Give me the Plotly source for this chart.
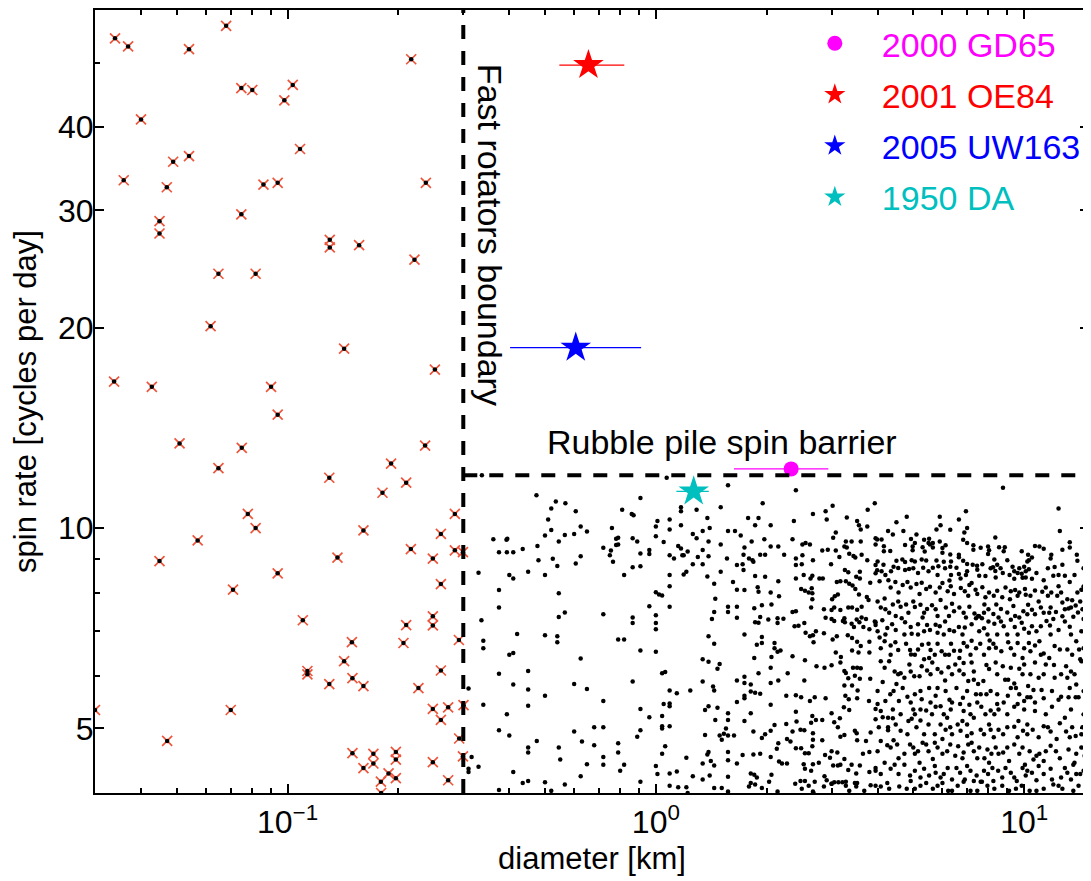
import math

import plotly.graph_objects as go

# fast rotators (diameter km, spin cycles/day), left of the 0.3 km boundary
fast_pts = [
    (0.0340, 54.4), (0.0369, 52.9), (0.0540, 52.4), (0.0681, 56.8), (0.2166, 50.6),
    (0.0749, 45.8), (0.0802, 45.5), (0.1033, 46.3), (0.0980, 43.9), (0.0400, 41.1),
    (0.0540, 36.2), (0.0489, 35.5), (0.1081, 37.1), (0.0359, 33.3), (0.0470, 32.5),
    (0.0860, 32.8), (0.0940, 33.0), (0.2374, 33.0), (0.0449, 28.9), (0.0449, 27.7),
    (0.0749, 29.6), (0.1302, 27.1), (0.1302, 26.4), (0.1564, 26.6), (0.2211, 25.3),
    (0.0649, 24.1), (0.0819, 24.1), (0.0618, 20.1), (0.1424, 18.6), (0.0338, 16.6),
    (0.0428, 16.3), (0.0902, 16.3), (0.2512, 17.3), (0.0940, 14.8), (0.0509, 13.4),
    (0.0751, 13.2), (0.2363, 13.3), (0.0649, 12.3), (0.1910, 12.5), (0.1298, 11.9),
    (0.2099, 11.7), (0.1810, 11.3), (0.2846, 10.5), (0.0780, 10.5), (0.0819, 10.0),
    (0.1607, 9.92), (0.2608, 9.80), (0.0570, 9.58), (0.2162, 9.30), (0.2846, 9.26),
    (0.2993, 9.20), (0.0449, 8.92), (0.1366, 9.03), (0.2480, 9.00), (0.0940, 8.55),
    (0.2608, 8.24), (0.0711, 8.08), (0.1100, 7.27), (0.2480, 7.37), (0.2480, 7.14),
    (0.2099, 7.15), (0.1495, 6.74), (0.2064, 6.72), (0.2919, 6.79), (0.1424, 6.31),
    (0.1132, 6.10), (0.1132, 6.03), (0.2608, 6.11), (0.1298, 5.83), (0.1500, 5.95),
    (0.1607, 5.79), (0.2266, 5.75), (0.0300, 5.33), (0.0701, 5.33), (0.2480, 5.35),
    (0.2729, 5.38), (0.3004, 5.42), (0.2608, 5.15), (0.0471, 4.79), (0.2924, 4.83),
    (0.1500, 4.59), (0.1710, 4.58), (0.1968, 4.61), (0.1968, 4.49), (0.1607, 4.36),
    (0.1710, 4.43), (0.2480, 4.45), (0.2993, 4.54), (0.1792, 4.16), (0.1880, 4.28),
    (0.1968, 4.21), (0.2729, 4.18), (0.1795, 4.00),
]

# slower rotators, 0.3 - 1 km
cloud_small = [
    (0.337, 12.0), (0.474, 11.2), (0.908, 11.1), (0.535, 10.96), (0.568, 10.9), (0.52, 10.7),
    (0.606, 10.6), (0.81, 10.65), (0.86, 10.5), (0.87, 10.45), (0.51, 10.3), (1.01, 10.25),
    (1.0, 10.05), (0.625, 10.05), (0.76, 10.0), (0.52, 9.93), (0.65, 9.88), (0.6, 9.8),
    (0.566, 9.76), (0.50, 9.75), (1.0, 9.72), (0.362, 9.62), (0.393, 9.6), (0.395, 9.64),
    (0.545, 9.55), (0.78, 9.64), (0.79, 9.67), (0.865, 9.65), (0.89, 9.55), (1.05, 9.53),
    (0.78, 9.43), (0.79, 9.45), (0.477, 9.4), (0.72, 9.34), (0.435, 9.3), (0.375, 9.2),
    (0.394, 9.2), (0.41, 9.2), (0.755, 9.25), (0.96, 9.27), (0.96, 9.14), (0.908, 9.16),
    (0.75, 9.1), (0.625, 9.07), (0.525, 8.99), (0.48, 8.95), (0.765, 8.9), (0.54, 8.77),
    (0.606, 8.85), (0.865, 8.73), (0.908, 8.76), (0.33, 8.57), (0.40, 8.5), (0.41, 8.4),
    (0.45, 8.6), (0.50, 8.5), (0.82, 8.5), (0.375, 8.07), (0.545, 7.98), (1.0, 8.01),
    (1.02, 7.95), (1.04, 7.92), (0.375, 7.6), (0.96, 7.63), (0.72, 7.42), (0.545, 7.35),
    (0.566, 7.47), (0.336, 7.27), (0.865, 7.34), (0.865, 7.2), (1.0, 7.4), (1.0, 7.2),
    (1.0, 7.05), (0.42, 6.93), (0.50, 6.9), (0.54, 6.88), (0.54, 6.74), (0.34, 6.77),
    (0.34, 6.6), (0.79, 6.8), (0.82, 6.8), (0.908, 6.55), (1.0, 6.52), (0.40, 6.45),
    (0.41, 6.49), (0.625, 6.37), (0.375, 6.04), (0.45, 6.1), (1.04, 6.05), (0.41, 5.82),
    (0.45, 5.72), (0.60, 5.83), (0.65, 5.73), (0.865, 5.88), (0.31, 5.74), (0.50, 5.6),
    (0.34, 5.43), (0.45, 5.41), (0.72, 5.5), (0.908, 5.35), (0.96, 5.2), (1.05, 5.44),
    (0.394, 5.25), (1.04, 5.22), (0.375, 4.97), (0.40, 4.88), (0.60, 4.95), (0.68, 5.02),
    (0.72, 5.02), (0.908, 4.97), (0.89, 4.86), (1.04, 5.04), (1.04, 5.0), (0.475, 4.79),
    (0.63, 4.78), (0.68, 4.72), (0.79, 4.75), (0.45, 4.68), (0.45, 4.6), (0.545, 4.68),
    (0.79, 4.6), (1.04, 4.58), (0.316, 4.53), (0.55, 4.49), (0.72, 4.53), (0.72, 4.41),
    (0.31, 4.35), (0.31, 4.3), (0.33, 4.38), (0.41, 4.3), (0.65, 4.42), (0.82, 4.41),
    (0.80, 4.32), (1.0, 4.39), (1.01, 4.27), (0.625, 4.24), (0.435, 4.14), (0.45, 4.17),
    (0.50, 4.15), (0.566, 4.12), (0.908, 4.16), (0.375, 4.04), (0.52, 4.03),
]

# 1 - 4 km
cloud_mid = [
    (1.07, 11.9), (1.57, 11.6), (2.40, 11.4), (1.95, 10.9), (3.93, 10.9), (1.17, 10.75),
    (1.17, 10.6), (1.50, 10.75), (1.29, 10.65), (3.02, 10.8), (2.67, 10.5), (2.89, 10.6),
    (2.91, 10.3), (3.76, 10.65), (1.09, 10.3), (1.38, 10.35), (1.78, 10.35), (1.90, 10.35),
    (2.37, 10.25), (3.30, 10.37), (3.52, 10.25), (3.56, 10.1), (1.09, 9.95), (1.17, 10.1),
    (1.34, 9.9), (1.40, 10.0), (1.57, 9.9), (1.64, 9.9), (1.70, 9.75), (1.86, 10.1),
    (2.05, 10.1), (3.08, 9.85), (3.60, 9.95), (3.75, 10.05), (1.26, 9.8), (1.29, 9.65),
    (1.39, 9.55), (1.50, 9.45), (1.74, 9.35), (1.82, 9.55), (1.97, 9.62), (2.35, 9.62),
    (2.50, 9.45), (2.55, 9.5), (2.62, 9.45), (3.03, 9.67), (3.28, 9.55), (3.40, 9.55),
    (3.60, 9.55), (3.95, 9.65), (1.15, 9.4), (1.17, 9.32), (1.22, 9.22), (1.34, 9.27),
    (1.09, 9.1), (1.12, 9.0), (1.18, 9.1), (1.19, 9.1), (1.30, 9.05), (1.39, 9.07),
    (1.56, 9.0), (1.73, 9.12), (1.79, 9.0), (1.83, 8.95), (1.84, 8.9), (1.92, 9.12),
    (1.98, 9.12), (2.15, 9.38), (2.05, 9.38), (2.23, 9.12), (2.40, 9.0), (2.50, 9.1),
    (2.67, 8.95), (2.83, 9.25), (2.93, 9.28), (3.08, 9.25), (3.15, 9.05), (3.25, 9.38),
    (3.30, 9.35), (3.35, 9.15), (3.44, 9.08), (3.48, 9.03), (3.62, 9.12), (3.75, 8.95),
    (3.95, 9.45), (3.95, 8.8), (1.26, 8.82), (1.34, 8.82), (1.09, 8.5), (1.21, 8.6),
    (1.19, 8.52), (1.38, 8.46), (1.50, 8.6), (1.66, 8.8), (1.72, 8.82), (1.73, 8.65),
    (1.86, 8.47), (1.98, 8.45), (2.15, 8.32), (2.40, 8.8), (2.49, 8.82), (2.52, 8.5),
    (2.40, 8.4), (2.63, 8.4), (2.66, 8.48), (2.78, 8.4), (2.84, 8.4), (2.99, 8.82),
    (3.26, 8.65), (3.33, 8.58), (3.28, 8.32), (3.17, 8.32), (3.10, 8.3), (3.58, 8.6),
    (3.50, 8.45), (3.58, 8.4), (3.82, 8.28), (3.95, 8.55), (1.09, 8.18), (1.44, 8.25),
    (1.62, 8.3), (1.66, 8.08), (1.74, 8.07), (1.89, 8.15), (1.90, 8.02), (2.05, 8.0),
    (2.16, 7.9), (2.48, 8.1), (2.54, 8.05), (2.60, 8.0), (2.66, 7.98), (2.65, 8.12),
    (3.01, 7.82), (3.06, 7.9), (3.12, 7.95), (3.35, 8.25), (3.42, 8.2), (3.48, 8.1),
    (3.56, 7.95), (3.74, 7.88), (1.45, 7.83), (1.09, 7.62), (1.57, 7.62), (1.57, 7.48),
    (1.66, 7.62), (1.85, 7.58), (1.94, 7.66), (2.06, 7.68), (2.64, 7.6), (2.66, 7.82),
    (2.86, 7.55), (3.00, 7.53), (3.05, 7.6), (3.17, 7.53), (3.33, 7.6), (3.41, 7.6),
    (3.52, 7.54), (3.62, 7.62), (3.78, 7.8), (1.42, 7.3), (1.44, 7.48), (1.66, 7.33),
    (1.86, 7.22), (1.90, 7.21), (1.92, 7.35), (2.02, 7.29), (2.14, 7.32), (2.14, 7.2),
    (2.22, 7.31), (2.35, 7.48), (2.40, 7.5), (2.38, 7.12), (2.44, 7.13), (2.53, 7.2),
    (2.89, 7.33), (3.00, 7.3), (3.05, 7.25), (3.25, 7.32), (3.22, 7.25), (3.26, 7.22),
    (3.40, 7.18), (3.45, 7.1), (3.51, 7.29), (3.57, 7.22), (3.62, 7.34), (3.72, 7.3),
    (3.66, 7.1), (3.80, 7.05), (3.93, 7.24), (3.95, 7.15), (1.39, 6.88), (1.44, 6.7),
    (1.74, 6.92), (1.94, 6.86), (1.88, 6.68), (1.94, 6.72), (1.85, 6.38), (2.10, 6.72),
    (2.10, 6.6), (2.14, 6.52), (2.18, 6.55), (2.06, 6.4), (2.35, 6.42), (2.55, 6.96),
    (2.62, 6.88), (2.67, 6.9), (2.68, 6.74), (2.72, 7.0), (2.86, 6.95), (3.02, 6.8),
    (3.10, 6.88), (3.08, 6.5), (3.18, 6.4), (3.17, 6.28), (3.32, 6.9), (3.41, 6.84),
    (3.52, 6.75), (3.41, 6.55), (3.60, 6.65), (3.80, 6.75), (3.55, 6.5), (3.80, 6.5),
    (2.54, 6.33), (2.73, 6.2), (3.00, 6.22), (2.05, 6.17), (1.90, 6.05), (2.87, 6.17),
    (3.25, 6.1), (3.28, 6.06), (3.43, 6.17), (3.52, 6.17), (3.60, 6.16), (3.33, 5.95),
    (3.47, 6.0), (3.58, 5.94), (3.82, 5.94), (1.47, 6.15), (1.49, 6.25), (1.34, 6.35),
    (1.39, 6.3), (1.06, 6.08), (1.09, 5.7), (1.14, 5.65), (1.24, 5.7), (1.34, 5.88),
    (1.43, 5.78), (1.44, 5.7), (1.66, 5.9), (1.74, 5.98), (1.74, 5.85), (1.81, 5.82),
    (1.66, 5.48), (1.74, 5.6), (1.74, 5.55), (1.81, 5.68), (1.86, 5.66), (1.92, 5.64),
    (2.05, 5.85), (2.15, 5.9), (2.05, 5.43), (2.28, 6.05), (2.26, 5.6), (2.40, 5.61),
    (2.48, 5.57), (2.53, 5.9), (2.62, 5.5), (2.70, 5.57), (2.89, 5.55), (3.00, 5.27),
    (3.25, 5.8), (3.41, 5.8), (3.27, 5.6), (3.34, 5.53), (3.24, 5.38), (3.35, 5.33),
    (3.53, 5.7), (3.52, 5.55), (3.79, 5.5), (3.95, 5.35), (1.09, 5.45), (1.09, 5.4),
    (1.39, 5.4), (1.36, 5.33), (1.47, 5.37), (1.57, 5.27), (1.57, 5.15), (1.55, 5.0),
    (1.45, 5.15), (1.74, 5.13), (1.81, 5.27), (1.09, 5.04), (1.36, 4.89), (1.49, 4.88),
    (1.53, 4.91), (1.57, 4.88), (1.63, 4.88), (1.51, 4.81), (1.84, 4.95), (2.05, 4.96),
    (1.94, 4.84), (1.98, 4.9), (2.10, 5.06), (2.26, 5.08), (2.35, 4.95), (2.40, 5.3),
    (2.41, 5.12), (2.47, 4.98), (2.53, 4.97), (2.64, 5.1), (2.72, 5.15), (2.66, 5.22),
    (2.83, 5.15), (3.05, 5.11), (3.12, 5.02), (3.16, 5.18), (3.17, 4.86), (3.25, 4.89),
    (3.47, 4.96), (3.51, 4.92), (3.52, 4.8), (3.72, 4.79), (3.83, 4.93), (1.06, 4.70),
    (1.38, 4.57), (1.39, 4.61), (1.34, 4.43), (1.41, 4.47), (1.44, 4.40), (1.57, 4.61),
    (1.57, 4.48), (1.66, 4.43), (1.72, 4.56), (1.84, 4.57), (1.92, 4.58), (2.05, 4.53),
    (2.15, 4.75), (2.13, 4.66), (2.16, 4.46), (2.20, 4.43), (2.27, 4.43), (2.27, 4.82),
    (2.32, 4.78), (2.40, 4.67), (2.48, 4.67), (2.54, 4.59), (2.60, 4.59), (2.67, 4.92),
    (2.67, 4.81), (2.66, 4.70), (2.83, 4.80), (2.88, 4.56), (2.97, 4.52), (2.52, 4.42),
    (2.54, 4.35), (2.67, 4.42), (2.64, 4.32), (2.77, 4.44), (3.00, 4.62), (3.11, 4.60),
    (3.03, 4.40), (3.12, 4.40), (3.17, 4.41), (3.25, 4.50), (3.33, 4.33), (3.50, 4.28),
    (3.40, 4.41), (3.65, 4.58), (3.80, 4.61), (3.58, 4.40), (3.80, 4.30), (3.95, 4.32),
    (1.09, 4.28), (1.14, 4.31), (1.26, 4.24), (1.21, 4.52), (1.34, 4.19), (1.40, 4.25),
    (1.57, 4.23), (1.81, 4.28), (1.88, 4.22), (1.85, 4.26), (2.06, 4.26), (2.03, 4.16),
    (2.47, 4.17), (2.54, 4.17), (2.70, 4.16), (2.87, 4.24), (2.91, 4.18), (3.00, 4.13),
    (3.13, 4.15), (3.21, 4.15), (3.28, 4.16), (3.47, 4.14), (3.52, 4.14), (1.09, 4.10),
    (1.15, 4.08), (1.21, 4.08), (1.22, 4.00), (1.44, 4.07), (1.51, 4.07), (1.57, 4.02),
    (1.81, 4.14), (1.79, 4.09), (1.86, 4.12), (1.94, 4.07), (2.14, 4.02), (2.39, 4.13),
    (2.49, 4.06), (2.60, 4.10), (2.67, 4.02), (2.68, 4.00), (2.86, 4.09), (3.00, 4.13),
    (3.05, 4.15), (3.28, 4.10), (3.35, 4.03), (3.50, 4.09), (3.68, 4.03), (3.83, 4.11),
    (3.95, 4.10),
]

# 4 - 15 km
cloud_large = [
    (8.76, 11.5), (12.4, 10.7), (4.8, 10.4), (5.9, 10.4), (6.95, 10.6), (4.5, 10.2),
    (6.65, 10.3), (5.93, 10.1), (4.27, 9.9), (4.4, 9.78), (4.7, 9.9), (5.78, 9.95),
    (6.3, 9.94), (6.88, 9.85), (7.0, 10.0), (12.5, 9.9), (3.99, 9.61), (4.1, 9.61),
    (5.1, 9.78), (4.93, 9.63), (5.05, 9.5), (5.35, 9.6), (5.5, 9.5), (5.65, 9.5),
    (5.9, 9.55), (6.83, 9.6), (8.35, 9.68), (13.3, 9.52), (13.3, 9.35), (4.16, 9.39),
    (4.16, 9.23), (4.33, 9.24), (4.75, 9.43), (4.98, 9.38), (4.98, 9.26), (5.3, 9.36),
    (5.37, 9.22), (5.55, 9.45), (5.65, 9.35), (6.0, 9.33), (6.0, 9.18), (7.28, 9.42),
    (7.28, 9.28), (7.98, 9.38), (8.03, 9.26), (7.98, 9.14), (8.55, 9.36), (8.8, 9.23),
    (10.7, 9.4), (11.0, 9.38), (11.3, 9.31), (6.65, 9.12), (6.3, 9.13), (13.9, 9.12),
    (4.5, 8.93), (4.67, 8.97), (4.75, 8.89), (4.95, 8.95), (5.05, 8.91), (5.27, 8.97),
    (5.42, 8.94), (5.78, 8.94), (5.85, 8.76), (6.05, 8.9), (6.33, 8.91), (6.65, 9.04),
    (6.83, 8.93), (7.0, 8.83), (7.25, 8.81), (7.45, 8.78), (7.7, 8.82), (8.3, 8.97),
    (8.23, 8.73), (8.45, 8.81), (9.0, 8.95), (9.3, 8.75), (9.7, 8.7), (10.0, 8.75),
    (10.2, 8.91), (10.3, 8.95), (10.5, 9.03), (11.8, 9.0), (12.1, 8.74), (12.7, 8.81),
    (14.8, 8.66), (3.99, 8.64), (4.1, 8.61), (4.2, 8.5), (4.35, 8.61), (4.55, 8.71),
    (4.75, 8.65), (4.87, 8.68), (5.0, 8.7), (5.32, 8.72), (5.5, 8.61), (6.1, 8.7),
    (6.3, 8.75), (6.33, 8.5), (6.65, 8.53), (6.72, 8.4), (6.95, 8.5), (7.55, 8.48),
    (7.85, 8.47), (8.35, 8.62), (8.37, 8.43), (8.75, 8.56), (9.13, 8.5), (9.4, 8.39),
    (9.6, 8.56), (9.85, 8.54), (10.1, 8.61), (10.3, 8.67), (10.1, 8.43), (10.5, 8.39),
    (11.3, 8.35), (12.0, 8.48), (12.9, 8.48), (13.3, 8.3), (14.5, 8.17), (14.3, 8.08),
    (15.0, 8.14), (4.05, 8.32), (4.28, 8.35), (4.47, 8.3), (4.68, 8.21), (4.82, 8.3),
    (4.92, 8.14), (5.1, 8.24), (5.27, 8.28), (5.42, 8.1), (5.55, 8.16), (5.9, 8.14),
    (6.0, 8.27), (6.27, 8.34), (6.32, 8.18), (6.73, 8.13), (6.9, 8.04), (7.1, 8.21),
    (7.2, 8.27), (7.38, 8.08), (7.7, 8.15), (8.03, 8.0), (8.45, 8.05), (8.9, 8.14),
    (9.2, 8.04), (9.45, 8.07), (9.7, 8.0), (10.05, 8.1), (10.1, 7.94), (10.7, 8.06),
    (11.2, 8.02), (11.6, 7.91), (11.85, 8.0), (12.3, 7.91), (12.7, 7.73), (13.1, 7.82),
    (13.5, 7.79), (13.8, 7.65), (14.2, 7.76), (15.0, 7.6), (4.0, 7.76), (4.18, 7.84),
    (4.08, 7.6), (4.2, 7.55), (4.4, 7.68), (4.55, 7.76), (4.62, 7.62), (4.78, 7.68),
    (5.0, 7.76), (5.05, 7.61), (5.23, 7.67), (5.45, 7.56), (5.62, 7.66), (5.75, 7.55),
    (5.93, 7.8), (6.13, 7.6), (6.37, 7.7), (6.45, 7.5), (6.67, 7.6), (7.1, 7.62),
    (7.33, 7.44), (7.55, 7.37), (7.8, 7.68), (8.0, 7.55), (8.25, 7.43), (8.4, 7.68),
    (8.65, 7.56), (9.0, 7.47), (9.35, 7.64), (9.45, 7.38), (9.95, 7.5), (10.25, 7.67),
    (10.5, 7.54), (10.7, 7.42), (11.3, 7.46), (11.7, 7.46), (12.2, 7.48), (12.7, 7.37),
    (13.2, 7.57), (13.6, 7.36), (14.0, 7.47), (14.5, 7.3), (15.0, 7.34), (3.95, 7.22),
    (4.12, 7.27), (4.25, 7.08), (4.38, 7.17), (4.65, 7.32), (4.75, 7.22), (4.92, 7.1),
    (4.95, 6.94), (5.15, 7.17), (5.3, 7.34), (5.45, 7.15), (5.55, 7.03), (5.75, 7.16),
    (5.9, 7.12), (6.1, 7.24), (6.27, 7.03), (6.65, 7.1), (6.9, 7.09), (7.2, 7.17),
    (7.4, 7.32), (7.5, 7.38), (7.68, 7.32), (8.0, 7.24), (8.3, 7.18), (8.65, 7.24),
    (8.8, 7.12), (9.2, 7.28), (9.43, 7.1), (9.85, 7.21), (10.0, 7.06), (10.5, 7.12),
    (11.1, 7.12), (11.5, 7.25), (11.75, 7.14), (12.0, 7.3), (12.9, 7.24), (13.3, 7.11),
    (14.3, 7.0), (15.0, 6.9), (15.1, 6.78), (4.05, 6.85), (4.18, 6.76), (4.34, 6.66),
    (4.47, 6.74), (4.55, 6.56), (4.78, 6.7), (4.9, 6.56), (4.93, 6.46), (5.05, 6.45),
    (5.28, 6.68), (5.5, 6.7), (5.57, 6.56), (5.72, 6.45), (5.82, 6.7), (5.97, 6.53),
    (6.1, 6.45), (6.33, 6.7), (6.45, 6.54), (6.7, 6.54), (6.85, 6.72), (7.0, 6.64),
    (7.2, 6.77), (7.4, 6.6), (7.6, 6.7), (7.95, 6.92), (8.06, 6.78), (8.25, 6.7),
    (8.38, 6.61), (8.67, 6.53), (9.05, 6.74), (9.6, 6.72), (10.0, 6.6), (10.3, 6.72),
    (10.7, 6.66), (11.0, 6.76), (11.3, 6.48), (12.1, 6.65), (12.5, 6.57), (13.1, 6.57),
    (13.5, 6.45), (14.1, 6.57), (14.2, 6.35), (15.1, 6.42), (4.08, 6.31), (4.3, 6.31),
    (4.45, 6.09), (4.55, 6.03), (4.62, 6.05), (4.73, 5.96), (4.88, 6.24), (5.03, 5.99),
    (5.2, 5.99), (5.27, 6.2), (5.35, 6.35), (5.45, 6.11), (5.63, 6.28), (5.96, 6.07),
    (6.1, 5.9), (6.23, 6.18), (6.5, 6.24), (6.67, 6.11), (6.85, 6.27), (7.2, 6.28),
    (7.05, 5.89), (7.3, 5.92), (7.5, 5.83), (7.75, 5.89), (7.9, 6.23), (8.03, 6.14),
    (8.37, 6.28), (8.75, 6.2), (8.88, 5.92), (9.05, 5.92), (9.4, 5.84), (9.7, 6.15),
    (9.9, 6.03), (10.25, 5.79), (10.6, 5.71), (10.7, 6.28), (11.3, 6.03), (11.45, 6.24),
    (12.05, 6.23), (12.1, 5.96), (13.0, 6.2), (13.1, 5.96), (13.7, 6.03), (13.85, 5.82),
    (14.3, 6.31), (14.65, 5.73), (15.1, 5.89), (4.0, 5.69), (4.2, 5.5), (4.33, 5.63),
    (4.5, 5.83), (4.4, 5.34), (4.57, 5.5), (4.82, 5.58), (5.0, 5.34), (5.23, 5.69),
    (5.27, 5.53), (5.42, 5.32), (5.57, 5.47), (5.75, 5.6), (5.93, 5.4), (6.27, 5.52),
    (6.32, 5.34), (6.7, 5.44), (6.82, 5.56), (7.1, 5.43), (7.4, 5.63), (7.65, 5.39),
    (7.9, 5.63), (8.11, 5.32), (8.3, 5.25), (8.52, 5.34), (8.8, 5.47), (9.03, 5.6),
    (9.2, 5.75), (9.5, 5.75), (9.6, 5.44), (10.0, 5.34), (10.2, 5.57), (10.7, 5.31),
    (11.15, 5.71), (11.3, 5.55), (12.4, 5.52), (12.6, 5.58), (13.2, 5.57), (13.8, 5.57),
    (14.5, 5.69), (15.0, 5.69), (15.1, 5.36), (3.95, 5.16), (4.13, 5.2), (4.27, 5.19),
    (4.4, 5.18), (4.27, 5.02), (4.27, 4.97), (4.85, 5.13), (4.82, 4.9), (4.95, 5.17),
    (5.05, 5.25), (5.23, 5.14), (5.5, 5.07), (5.62, 5.25), (5.93, 5.07), (6.18, 5.19),
    (6.3, 5.02), (6.6, 5.07), (6.8, 5.13), (7.0, 5.07), (7.2, 4.92), (7.3, 5.19),
    (7.62, 4.98), (8.03, 5.07), (8.11, 4.98), (8.52, 4.98), (8.77, 4.9), (9.4, 5.03),
    (9.65, 5.13), (9.93, 4.96), (10.2, 5.07), (10.55, 4.98), (11.3, 5.04), (11.8, 4.95),
    (12.25, 4.82), (12.5, 5.09), (13.0, 4.95), (13.5, 5.02), (13.8, 4.87), (14.3, 4.9),
    (14.9, 4.98), (4.08, 4.79), (4.25, 4.72), (4.42, 4.8), (4.52, 4.73), (4.73, 4.58),
    (5.0, 4.68), (5.05, 4.58), (5.3, 4.76), (5.5, 4.62), (5.65, 4.5), (5.82, 4.68),
    (6.0, 4.82), (6.18, 4.62), (6.5, 4.55), (6.62, 4.7), (6.85, 4.6), (7.05, 4.73),
    (7.3, 4.62), (7.55, 4.68), (7.8, 4.51), (8.03, 4.44), (8.15, 4.58), (8.37, 4.68),
    (8.77, 4.6), (9.1, 4.47), (9.4, 4.73), (9.7, 4.58), (10.05, 4.41), (10.35, 4.62),
    (10.6, 4.49), (11.0, 4.58), (11.3, 4.47), (11.8, 4.71), (12.5, 4.51), (12.9, 4.36),
    (13.6, 4.41), (14.3, 4.68), (14.6, 4.55), (15.0, 4.76), (3.95, 4.36), (4.18, 4.44),
    (4.34, 4.35), (4.56, 4.27), (4.73, 4.41), (5.05, 4.32), (5.2, 4.44), (5.35, 4.35),
    (5.52, 4.25), (5.72, 4.39), (5.93, 4.22), (6.2, 4.36), (6.37, 4.19), (6.7, 4.29),
    (6.9, 4.19), (7.15, 4.32), (7.43, 4.25), (7.68, 4.16), (7.98, 4.27), (8.25, 4.17),
    (8.5, 4.32), (8.72, 4.22), (9.2, 4.29), (9.55, 4.17), (9.9, 4.36), (10.1, 4.25),
    (10.5, 4.29), (10.8, 4.18), (11.3, 4.27), (11.9, 4.19), (12.4, 4.1), (13.1, 4.29),
    (13.7, 4.44), (13.85, 4.27), (14.5, 4.32), (15.0, 4.1), (4.08, 4.09), (4.25, 4.14),
    (4.58, 4.09), (4.92, 4.17), (5.05, 4.06), (5.42, 4.14), (5.82, 4.1), (6.22, 4.03),
    (6.6, 4.1), (7.15, 4.03), (7.62, 4.16), (8.3, 4.06), (9.1, 4.03), (9.85, 4.1),
    (10.35, 4.03), (11.3, 4.06), (12.0, 4.12), (13.6, 4.03),
]

# second pass over the dense 4 - 15 km region
cloud_large_b = [
    (5.52, 9.64), (6.12, 9.42), (7.0, 9.5), (7.62, 9.34), (8.86, 9.36), (9.85, 9.23),
    (10.25, 9.12), (11.85, 9.12), (12.7, 9.28), (13.95, 8.93), (4.0, 8.91), (4.15, 8.81),
    (4.42, 8.75), (5.15, 8.56), (5.65, 8.72), (5.82, 8.5), (6.55, 8.72), (7.0, 8.61),
    (7.46, 8.66), (8.11, 8.7), (8.63, 8.7), (9.4, 8.61), (9.9, 8.42), (10.8, 8.56),
    (11.6, 8.7), (12.4, 8.5), (13.7, 8.5), (14.5, 8.7), (4.34, 8.14), (4.56, 8.0),
    (5.2, 7.96), (5.75, 8.0), (6.2, 8.04), (6.45, 7.96), (7.05, 7.91), (7.46, 7.96),
    (7.85, 7.87), (8.27, 7.91), (8.72, 7.87), (9.15, 7.82), (9.6, 7.91), (10.4, 7.91),
    (10.95, 7.76), (11.45, 8.14), (12.4, 8.18), (12.6, 8.0), (13.95, 8.0), (14.7, 7.87),
    (4.3, 7.46), (4.48, 7.38), (4.85, 7.46), (5.35, 7.46), (5.82, 7.38), (6.25, 7.38),
    (6.85, 7.46), (6.95, 7.34), (7.78, 7.46), (8.52, 7.34), (9.7, 7.34), (10.2, 7.42),
    (11.1, 7.6), (11.8, 7.6), (12.9, 7.55), (13.4, 7.6), (14.4, 7.55), (4.0, 7.0),
    (4.2, 6.92), (4.48, 7.03), (4.73, 6.92), (5.15, 6.92), (5.35, 7.0), (5.82, 6.96),
    (6.05, 6.92), (6.45, 7.0), (6.8, 6.92), (7.55, 7.0), (7.78, 7.07), (8.45, 6.92),
    (9.0, 6.92), (9.6, 6.92), (10.3, 6.96), (10.8, 7.0), (11.8, 6.92), (12.4, 7.03),
    (13.4, 6.92), (13.85, 6.76), (4.08, 6.6), (4.34, 6.45), (5.15, 6.57), (5.52, 6.38),
    (6.25, 6.45), (6.67, 6.38), (7.15, 6.45), (7.78, 6.45), (8.03, 6.6), (9.2, 6.6),
    (9.4, 6.45), (9.9, 6.38), (10.4, 6.53), (11.1, 6.45), (11.7, 6.38), (14.5, 6.6),
    (4.18, 6.17), (4.92, 6.09), (5.57, 6.03), (5.82, 6.14), (6.37, 6.03), (6.85, 6.03),
    (7.3, 6.09), (8.45, 6.03), (9.2, 6.17), (10.0, 6.24), (10.4, 6.03), (10.95, 5.96),
    (12.6, 6.03), (13.4, 6.09), (14.9, 6.03), (4.13, 5.87), (4.42, 5.69), (4.68, 5.75),
    (5.05, 5.63), (5.52, 5.75), (5.82, 5.75), (6.12, 5.69), (6.55, 5.75), (7.0, 5.69),
    (7.62, 5.63), (8.11, 5.69), (8.45, 5.63), (9.7, 5.63), (10.4, 5.57), (11.9, 5.69),
    (13.3, 5.75), (14.05, 5.57), (4.0, 5.44), (4.08, 5.31), (4.62, 5.25), (4.92, 5.47),
    (5.23, 5.34), (5.75, 5.39), (6.05, 5.25), (6.37, 5.47), (6.85, 5.31), (7.15, 5.25),
    (7.46, 5.47), (7.85, 5.25), (8.45, 5.44), (9.0, 5.25), (9.4, 5.39), (10.0, 5.5),
    (10.7, 5.47), (11.45, 5.25), (11.9, 5.39), (12.9, 5.19), (13.4, 5.34), (14.5, 5.25),
    (4.03, 5.02), (4.48, 5.07), (4.62, 4.96), (5.1, 5.02), (5.35, 4.9), (5.72, 4.9),
    (6.12, 4.98), (6.37, 4.9), (6.72, 4.96), (7.0, 4.87), (7.78, 4.9), (8.27, 4.85),
    (9.0, 5.02), (9.6, 4.85), (10.2, 4.9), (10.95, 4.85), (11.6, 5.02), (13.3, 4.85),
    (14.4, 5.02), (4.0, 4.62), (4.34, 4.68), (4.56, 4.51), (4.9, 4.73), (5.15, 4.62),
    (5.42, 4.73), (5.72, 4.76), (6.0, 4.58), (6.3, 4.73), (6.8, 4.51), (7.2, 4.76),
    (7.46, 4.51), (7.95, 4.65), (8.52, 4.58), (9.0, 4.68), (9.9, 4.68), (10.8, 4.55),
    (11.45, 4.62), (12.2, 4.62), (13.2, 4.65), (13.85, 4.58), (15.0, 4.51), (4.08, 4.27),
    (4.45, 4.41), (4.9, 4.25), (5.23, 4.22), (5.75, 4.29), (6.05, 4.27), (6.55, 4.36),
    (7.0, 4.39), (7.3, 4.17), (7.78, 4.32), (8.2, 4.36), (8.9, 4.36), (9.4, 4.22),
    (10.2, 4.32), (10.95, 4.39), (11.8, 4.35), (12.6, 4.22), (13.4, 4.19), (14.2, 4.27),
    (4.3, 4.06), (4.8, 4.06), (5.23, 4.1), (5.65, 4.06), (6.0, 4.14), (6.37, 4.03),
    (6.85, 4.16), (7.46, 4.03), (7.95, 4.1), (8.72, 4.1), (9.5, 4.06), (10.8, 4.03),
    (12.7, 4.06), (14.05, 4.1),
]

# named objects with diameter uncertainty
obj_names = ["2000 GD65", "2001 OE84", "2005 UW163", "1950 DA"]
obj_colors = ["#ff00ff", "#ff0000", "#0000ff", "#00bfbf"]
obj_symbols = ["circle", "star", "star", "star"]
obj_diam = [2.33, 0.656, 0.606, 1.267]
obj_diam_lo = [1.63, 0.547, 0.402, 1.137]
obj_diam_hi = [2.94, 0.821, 0.912, 1.392]
obj_spin = [12.27, 49.6, 18.66, 11.35]

fast_boundary = 0.3   # km
spin_barrier = 12.0   # cycles per day

FONT = "Liberation Sans, Arial, sans-serif"


def make_figure():
    fig = go.Figure()

    cloud = cloud_small + cloud_mid + cloud_large + cloud_large_b
    fig.add_trace(go.Scatter(
        x=[p[0] for p in cloud], y=[p[1] for p in cloud],
        mode="markers", marker=dict(size=4.5, color="black"),
        showlegend=False, hoverinfo="skip"))

    fig.add_trace(go.Scatter(
        x=[p[0] for p in fast_pts], y=[p[1] for p in fast_pts],
        mode="markers",
        marker=dict(symbol="x-thin-open", size=10, line=dict(color="#c8561f", width=1.7)),
        showlegend=False, hoverinfo="skip"))
    fig.add_trace(go.Scatter(
        x=[p[0] for p in fast_pts], y=[p[1] for p in fast_pts],
        mode="markers", marker=dict(size=4.5, color="black"),
        showlegend=False, hoverinfo="skip"))

    for i, name in enumerate(obj_names):
        fig.add_trace(go.Scatter(
            x=[obj_diam[i]], y=[obj_spin[i]],
            mode="markers",
            name='<span style="color:%s">%s</span>' % (obj_colors[i], name),
            legendgroup=name,
            marker=dict(symbol=obj_symbols[i], size=15 if obj_symbols[i] == "circle" else 23,
                        color=obj_colors[i], line=dict(width=0)),
            error_x=dict(type="data", symmetric=False,
                         array=[obj_diam_hi[i] - obj_diam[i]],
                         arrayminus=[obj_diam[i] - obj_diam_lo[i]],
                         color=obj_colors[i], thickness=1.2, width=0),
        ))

    dash = dict(color="black", width=4, dash="14px,12px")
    fig.add_shape(type="line", xref="x", yref="paper",
                  x0=fast_boundary, x1=fast_boundary, y0=0, y1=1, line=dash)
    fig.add_shape(type="line", xref="x", yref="y",
                  x0=fast_boundary, x1=15.5, y0=spin_barrier, y1=spin_barrier, line=dash)

    # annotation positions on log axes are given in log10 units
    fig.add_annotation(x=math.log10(0.356), y=math.log10(27.6), xref="x", yref="y",
                       text="Fast rotators boundary", textangle=90, showarrow=False,
                       font=dict(size=34, color="black", family=FONT))
    fig.add_annotation(x=math.log10(1.516), y=math.log10(13.45), xref="x", yref="y",
                       text="Rubble pile spin barrier", showarrow=False,
                       font=dict(size=34, color="black", family=FONT))

    axis_common = dict(
        type="log", showgrid=False, zeroline=False, showline=True, mirror="ticks",
        linecolor="black", linewidth=2, ticks="inside", ticklen=9, tickwidth=1.5,
        tickcolor="black", tickfont=dict(size=32, color="black", family=FONT),
    )
    fig.update_xaxes(
        range=[math.log10(0.03), math.log10(15)],
        tickvals=[0.1, 1, 10],
        ticktext=["10<sup>−1</sup>", "10<sup>0</sup>", "10<sup>1</sup>"],
        minor=dict(ticks="inside", ticklen=5, tickwidth=1.5, tickcolor="black",
                   tickvals=[0.04, 0.05, 0.06, 0.07, 0.08, 0.09, 0.2, 0.3, 0.4, 0.5, 0.6,
                             0.7, 0.8, 0.9, 2, 3, 4, 5, 6, 7, 8, 9]),
        title=dict(text="diameter [km]", font=dict(size=31, color="black", family=FONT),
                   standoff=8),
        **axis_common)
    fig.update_yaxes(
        range=[math.log10(4), math.log10(60)],
        tickvals=[5, 10, 20, 30, 40],
        ticktext=["5", "10", "20", "30", "40"],
        ticklabelstandoff=-7,
        minor=dict(ticks="inside", ticklen=5, tickwidth=1.5, tickcolor="black",
                   tickvals=[4, 6, 7, 8, 9, 50, 60]),
        title=dict(text="spin rate [cycles per day]",
                   font=dict(size=31, color="black", family=FONT), standoff=21),
        **axis_common)

    # the page adds an 8 px body margin, so the figure is 8 px smaller than the window
    fig.update_layout(
        width=1083, height=873,
        margin=dict(l=87, r=0, t=0, b=88),
        paper_bgcolor="white", plot_bgcolor="white",
        font=dict(family=FONT, color="black"),
        legend=dict(x=0.697, y=0.994, xanchor="left", yanchor="top",
                    bgcolor="rgba(0,0,0,0)", itemwidth=84, tracegroupgap=4,
                    font=dict(size=34, family=FONT)),
    )
    return fig


if __name__ == "__main__":
    figure = make_figure()
    figure.write_html("out.html")
